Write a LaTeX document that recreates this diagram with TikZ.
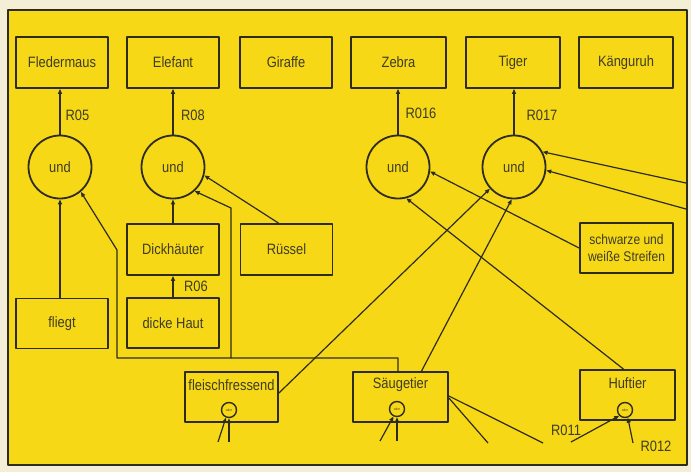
\documentclass[tikz,border=0pt]{standalone}
\usepackage{fontspec}
\setmainfont[FakeStretch=0.86]{Liberation Sans}
\usetikzlibrary{arrows.meta,calc}
\definecolor{bgc}{HTML}{F4EED6}
\definecolor{yel}{HTML}{F6D816}
\definecolor{ink}{HTML}{2E2C1E}
\definecolor{txt}{HTML}{3E3C24}
\begin{document}
\begin{tikzpicture}[x=1pt,y=-1pt,line join=round,
  font=\fontsize{15}{17}\selectfont,
  box/.style={draw=ink,line width=1.8pt,rectangle,minimum width=92pt,minimum height=51pt,inner sep=0pt,text=txt},
  und/.style={draw=ink,line width=1.8pt,circle,minimum size=63pt,inner sep=0pt,text=txt},
  oder/.style={draw=ink,line width=1.4pt,circle,minimum size=15pt,inner sep=0pt,font=\fontsize{3.5}{4}\selectfont,text=txt},
  lab/.style={text=txt,inner sep=0pt},
  arr/.style={draw=ink,line width=1.2pt,-{Triangle[length=5pt,width=4pt]}},
  ln/.style={draw=ink,line width=1.2pt}]
% background and frame
\fill[bgc] (0,0) rectangle (691,472);
\fill[yel] (8,10) rectangle (687,465);
\draw[ink,line width=2.5pt] (8,10) rectangle (687,465);
% top row
\node[box] (fm) at (62,62.5) {Fledermaus};
\node[box] (el) at (173,62.5) {Elefant};
\node[box] (gi) at (286,62.5) {Giraffe};
\node[box,minimum width=95pt] (ze) at (398.5,62.5) {Zebra};
\node[box,minimum width=94pt] (ti) at (513,62.5) {Tiger};
\node[box,minimum width=94pt] (ka) at (626,62.5) {Känguruh};
% und circles
\node[und] (c1) at (60,167) {und};
\node[und] (c2) at (173,167) {und};
\node[und] (c3) at (398,167) {und};
\node[und] (c4) at (514,167) {und};
% middle boxes
\node[box] (dk) at (173,249.5) {Dickhäuter};
\node[box] (rs) at (286.5,249.5) {Rüssel};
\node[box,minimum height=50pt] (dh) at (173,323) {dicke Haut};
\node[box,minimum height=50pt] (fl) at (62,323.5) {fliegt};
\node[box,minimum width=93pt,minimum height=50pt,align=center,font=\fontsize{14}{16.5}\selectfont] (st) at (626.5,248) {schwarze und\\weiße Streifen};
% bottom boxes
\node[box,minimum width=93pt,minimum height=50pt] (ff) at (231.5,397) {};
\node[box,minimum width=95pt,minimum height=50pt] (sg) at (400.5,397) {};
\node[box,minimum width=95pt,minimum height=50pt] (hf) at (627.5,395) {};
\node[lab] (ffL) at (231.5,385) {fleischfressend};
\node[lab] (sgL) at (400.5,385) {Säugetier};
\node[lab] (hfL) at (627.5,383) {Huftier};
\node[oder] (ffo) at (229,410) {oder};
\node[oder] (sgo) at (397,409) {oder};
\node[oder] (hfo) at (625,410) {oder};
% labels
\node[lab] (r05) at (77.5,115) {R05};
\node[lab] (r08) at (193,115) {R08};
\node[lab] (r016) at (421,113) {R016};
\node[lab] (r017) at (542,115) {R017};
\node[lab] (r06) at (196,286) {R06};
\node[lab] (r011) at (566,430) {R011};
\node[lab] (r012) at (656,446) {R012};
% conclusions
\draw[arr] (c1.north) -- (c1.north |- fm.south);
\draw[arr] (c2.north) -- (c2.north |- el.south);
\draw[arr] (c3.north) -- (c3.north |- ze.south);
\draw[arr] (c4.north) -- (c4.north |- ti.south);
% inputs to c1
\draw[arr] (c1.south |- fl.north) -- (c1.south);
\coordinate (j1) at (398,358);
\coordinate (j2) at (117,358);
\coordinate (j3) at (117,250);
\draw[arr] ($(sg.north)+(-2.5,0)$) -- (j1) -- (j2) -- (j3) -- (c1.-50);
% inputs to c2
\coordinate (j4) at (231,358);
\coordinate (j5) at (231,208);
\draw[arr] (j4) -- (j5) -- (c2.-48);
\draw[arr] (dk.north) -- (c2.south);
\draw[arr] ([xshift=-8pt]rs.north) -- (c2.-15);
\draw[arr] (dh.north) -- (dk.south);
% inputs to c3
\draw[arr] (st.west) -- (c3.-8);
\draw[arr] ([xshift=-4pt]hf.north) -- (c3.-75);
% inputs to c4
\draw[arr] ([yshift=4pt]ff.east) -- (c4.-138);
\draw[arr] ([xshift=21pt]sg.north) -- (c4.-94);
\coordinate (e1) at (686,183);
\coordinate (e2) at (686,209);
\draw[arr] (e1) -- (c4.28);
\draw[arr] (e2) -- (c4.-6);
% outgoing from Saeugetier
\coordinate (s1) at (488,443);
\coordinate (s2) at (543,443);
\draw[ln] ([yshift=-1pt]sg.east) -- (s1);
\draw[ln] ([yshift=1pt]sg.east) -- (s2);
% stubs into oder circles
\coordinate (f1) at (218,442);
\coordinate (f2) at (229,442);
\draw[arr] (f1) -- (ffo.-112);
\draw[arr] (f2) -- (ffo.south);
\coordinate (s3) at (380,441);
\coordinate (s4) at (397,441);
\draw[arr] (s3) -- (sgo.-115);
\draw[arr] (s4) -- (sgo.south);
\coordinate (h1) at (571,442);
\coordinate (h2) at (633,443);
\draw[arr] (h1) -- (hfo.-135);
\draw[arr] (h2) -- (hfo.-70);
\end{tikzpicture}
\end{document}
